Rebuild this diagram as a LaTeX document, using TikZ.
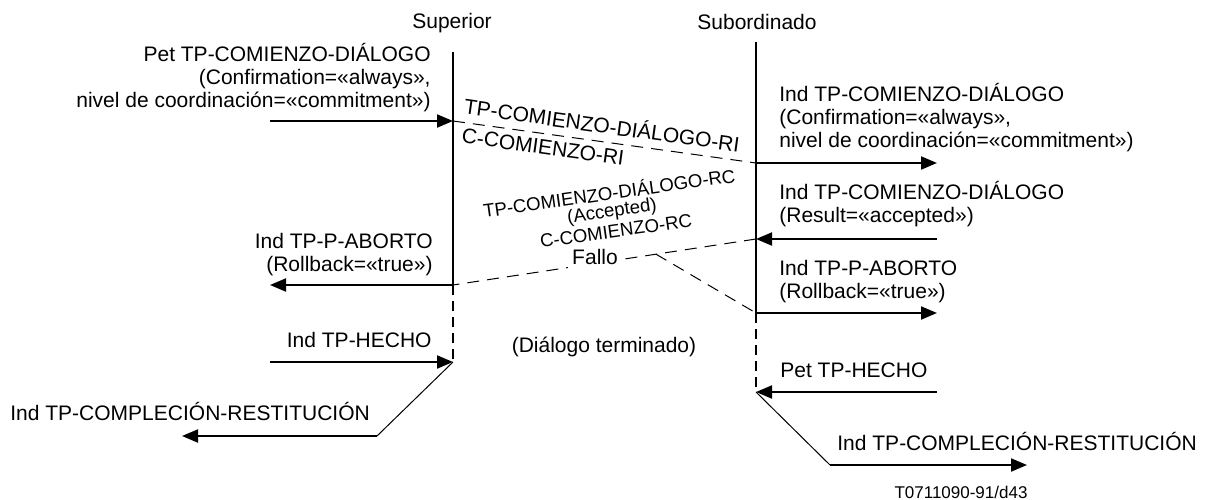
\documentclass[tikz,border=0pt]{standalone}
\usepackage{fontspec}
\setmainfont{Liberation Sans}
\usetikzlibrary{arrows.meta,calc}

\tikzset{
  msg/.style={line width=1pt,-{Triangle[length=8pt,width=6.5pt]}},
  pdu/.style={line width=0.5pt,dash pattern=on 6pt off 4pt},
  lbl/.style={inner sep=0pt,font=\fontsize{10.5}{11.5}\selectfont},
  small/.style={font=\fontsize{9.3}{10}\selectfont},
}

\begin{document}
\begin{tikzpicture}[x=0.5pt,y=-0.5pt]
\useasboundingbox (0,0) rectangle (1210,499);

% 两端的名称
\node[lbl] (sup) at (452,23) {Superior};
\node[lbl] (sub) at (757,22) {Subordinado};

% 生命线上的点
\coordinate (a0) at (453,52);
\coordinate (a1) at (453,121);
\coordinate (a2) at (453,285);
\coordinate (a3) at (453,362);
\coordinate (b0) at (756,42);
\coordinate (b1) at (756,163);
\coordinate (b2) at (756,239);
\coordinate (b3) at (756,313);
\coordinate (b4) at (756,392);

% 左右两侧的端点
\coordinate (l1) at (270,121);
\coordinate (l2) at (270,285);
\coordinate (l3) at (270,362);
\coordinate (l4) at (377,436);
\coordinate (l5) at (182,436);
\coordinate (r1) at (937,163);
\coordinate (r2) at (937,239);
\coordinate (r3) at (937,313);
\coordinate (r4) at (937,392);
\coordinate (r5) at (830,465);
\coordinate (r6) at (1027,465);

% 生命线
\draw[line width=1pt] (a0) -- (a2);
\draw[line width=1pt,dash pattern=on 5pt off 3pt] (a2) -- (a3);
\draw[line width=1pt] (b0) -- (b3);
\draw[line width=1pt,dash pattern=on 5pt off 3pt] (b3) -- (b4);

% 协议数据单元（虚线）
\draw[pdu] (a1) -- (b1);
\draw[pdu] (b2) -- (a2);
\coordinate (f) at ($(b2)!0.33!(a2)$);
\draw[pdu] (f) -- (b3);

% 原语
\draw[msg] (l1) -- (a1);
\draw[msg] (b1) -- (r1);
\draw[msg] (r2) -- (b2);
\draw[msg] (a2) -- (l2);
\draw[msg] (b3) -- (r3);
\draw[msg] (l3) -- (a3);
\draw[msg] (r4) -- (b4);
\draw[line width=0.5pt] (a3) -- (l4);
\draw[msg] (l4) -- (l5);
\draw[line width=0.5pt] (b4) -- (r5);
\draw[msg] (r5) -- (r6);

% 左侧文字（多行节点的 base 在最后一行）
\node[lbl,align=right,anchor=base east] (petcom) at (431,107)
  {Pet TP-COMIENZO-DIÁLOGO\\(Confirmation=«always»,\\nivel de coordinación=«commitment»)};
\node[lbl,align=right,anchor=base east] (indabl) at (433,271)
  {Ind TP-P-ABORTO\\(Rollback=«true»)};
\node[lbl,anchor=base east] (indhec) at (432,347) {Ind TP-HECHO};
\node[lbl,anchor=base west] (indrsl) at (10,420) {Ind TP-COMPLECIÓN-RESTITUCIÓN};

% 右侧文字
\node[lbl,align=left,anchor=base west] (indcom) at (779,147)
  {Ind TP-COMIENZO-DIÁLOGO\\(Confirmation=«always»,\\nivel de coordinación=«commitment»)};
\node[lbl,align=left,anchor=base west] (indres) at (779,222)
  {Ind TP-COMIENZO-DIÁLOGO\\(Result=«accepted»)};
\node[lbl,align=left,anchor=base west] (indabr) at (779,298)
  {Ind TP-P-ABORTO\\(Rollback=«true»)};
\node[lbl,anchor=base west] (pethec) at (780,377) {Pet TP-HECHO};
\node[lbl,anchor=base west] (indrsr) at (837,450) {Ind TP-COMPLECIÓN-RESTITUCIÓN};

% 中间的文字
\node[lbl,rotate=-7.9] (ri) at (602,124) {TP-COMIENZO-DIÁLOGO-RI};
\node[lbl,rotate=-7.9] (cri) at (543,147) {C-COMIENZO-RI};
\node[lbl,small,rotate=8] (rc) at (609,192) {TP-COMIENZO-DIÁLOGO-RC};
\node[lbl,small,rotate=8] (acc) at (612,212) {(Accepted)};
\node[lbl,small,rotate=8] (crc) at (616,231) {C-COMIENZO-RC};
\node[lbl,fill=white,inner sep=2pt] (fallo) at (595,257) {Fallo};
\node[lbl] (fin) at (604,347) {(Diálogo terminado)};

\node[lbl,font=\fontsize{8.5}{10}\selectfont] (ref) at (961,492) {T0711090-91/d43};
\end{tikzpicture}
\end{document}
